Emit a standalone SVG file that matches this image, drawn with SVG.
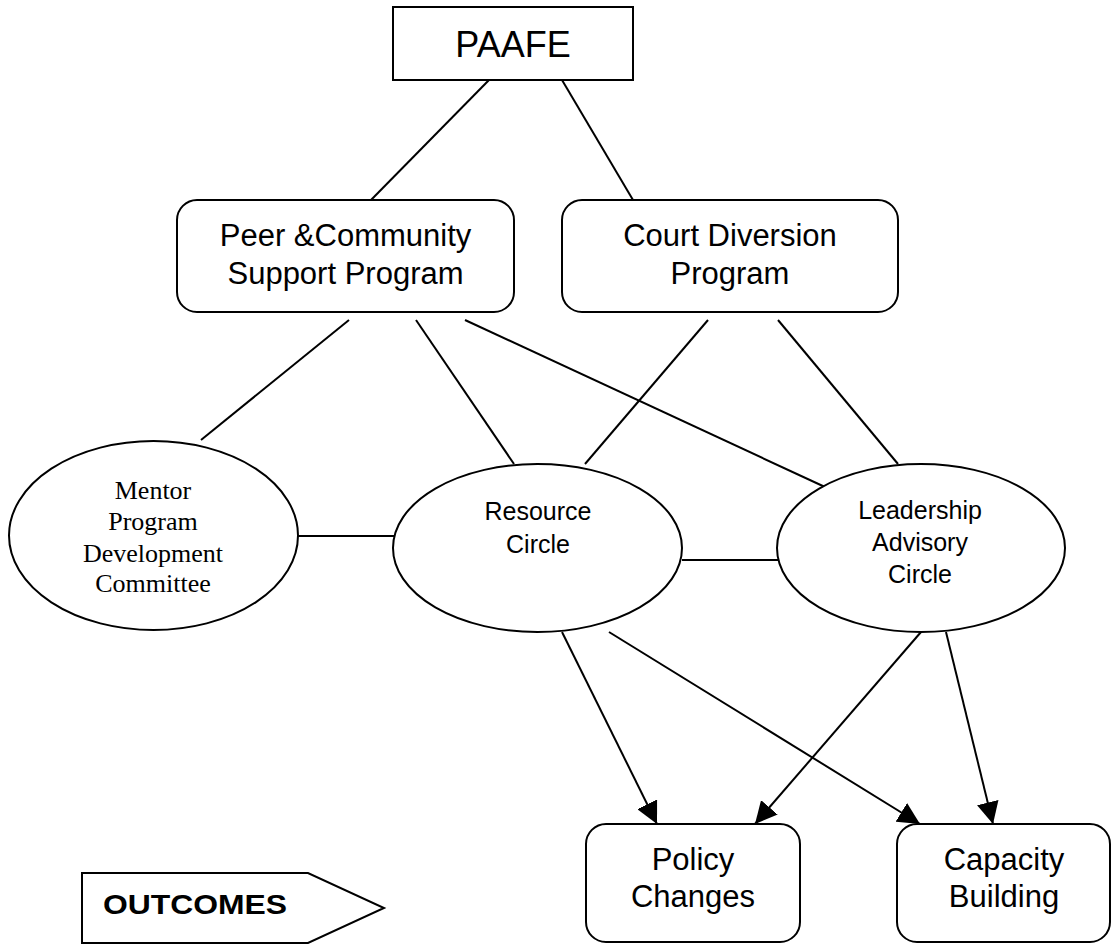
<svg xmlns="http://www.w3.org/2000/svg" width="1112" height="944" viewBox="0 0 1112 944">
<style>
.shape{fill:#fff;stroke:#000;stroke-width:2}
.line{stroke:#000;stroke-width:2;fill:none}
.sans{font-family:"Liberation Sans",Arial,sans-serif;fill:#000;text-anchor:middle}
.serif{font-family:"Liberation Serif","Times New Roman",serif;fill:#000;text-anchor:middle}
</style>
<defs>
<marker id="arr" markerUnits="userSpaceOnUse" markerWidth="24" markerHeight="22" viewBox="0 0 24 22" refX="22" refY="11" orient="auto">
<path d="M0,0 L22,11 L0,22 z" fill="#000"/>
</marker>
</defs>
<rect width="1112" height="944" fill="#fff"/>
<g id="connectors">
<line class="line" x1="489" y1="80" x2="371" y2="200"/>
<line class="line" x1="562" y1="80" x2="633" y2="200"/>
<line class="line" x1="349" y1="320" x2="201" y2="440"/>
<line class="line" x1="416" y1="320" x2="514" y2="464"/>
<line class="line" x1="465" y1="320" x2="825" y2="487"/>
<line class="line" x1="708" y1="320" x2="585" y2="464"/>
<line class="line" x1="778" y1="320" x2="898" y2="464"/>
<line class="line" x1="298" y1="536" x2="394" y2="536"/>
<line class="line" x1="682" y1="560" x2="778" y2="560"/>
<line class="line" x1="562" y1="632" x2="657" y2="824" marker-end="url(#arr)"/>
<line class="line" x1="609" y1="632" x2="920" y2="824" marker-end="url(#arr)"/>
<line class="line" x1="921" y1="632" x2="755" y2="824" marker-end="url(#arr)"/>
<line class="line" x1="946" y1="632" x2="993" y2="824" marker-end="url(#arr)"/>
</g>
<g id="paafe">
<rect class="shape" x="393" y="7" width="240" height="73"/>
<text class="sans" x="513" y="57" font-size="36">PAAFE</text>
</g>
<g id="peer">
<rect class="shape" x="177" y="200" width="337" height="112" rx="20" ry="20"/>
<text class="sans" x="345.5" y="246" font-size="31">Peer &amp;Community</text>
<text class="sans" x="345.5" y="284" font-size="31">Support Program</text>
</g>
<g id="court">
<rect class="shape" x="562" y="200" width="336" height="112" rx="20" ry="20"/>
<text class="sans" x="730" y="246" font-size="31">Court Diversion</text>
<text class="sans" x="730" y="284" font-size="31">Program</text>
</g>
<g id="mentor">
<ellipse class="shape" cx="153.5" cy="535.5" rx="144.5" ry="94.5"/>
<text class="serif" x="153" y="499" font-size="26">Mentor</text>
<text class="serif" x="153" y="530" font-size="26">Program</text>
<text class="serif" x="153" y="562" font-size="26">Development</text>
<text class="serif" x="153" y="592" font-size="26">Committee</text>
</g>
<g id="resource">
<ellipse class="shape" cx="537.5" cy="548" rx="144.5" ry="84"/>
<text class="sans" x="538" y="520" font-size="25">Resource</text>
<text class="sans" x="538" y="553" font-size="25">Circle</text>
</g>
<g id="leadership">
<ellipse class="shape" cx="921" cy="548" rx="144" ry="84"/>
<text class="sans" x="920" y="519" font-size="25">Leadership</text>
<text class="sans" x="920" y="551" font-size="25">Advisory</text>
<text class="sans" x="920" y="583" font-size="25">Circle</text>
</g>
<g id="policy">
<rect class="shape" x="586" y="824" width="214" height="118" rx="20" ry="20"/>
<text class="sans" x="693" y="870" font-size="31">Policy</text>
<text class="sans" x="693" y="907" font-size="31">Changes</text>
</g>
<g id="capacity">
<rect class="shape" x="897" y="824" width="213" height="118" rx="20" ry="20"/>
<text class="sans" x="1004" y="870" font-size="31">Capacity</text>
<text class="sans" x="1004" y="907" font-size="31">Building</text>
</g>
<g id="outcomes">
<polygon class="shape" points="82,873 308,873 384,908 308,943 82,943"/>
<text x="103" y="914" font-family="'Liberation Sans',Arial,sans-serif" font-weight="bold" font-size="28" textLength="184" lengthAdjust="spacingAndGlyphs">OUTCOMES</text>
</g>
</svg>
